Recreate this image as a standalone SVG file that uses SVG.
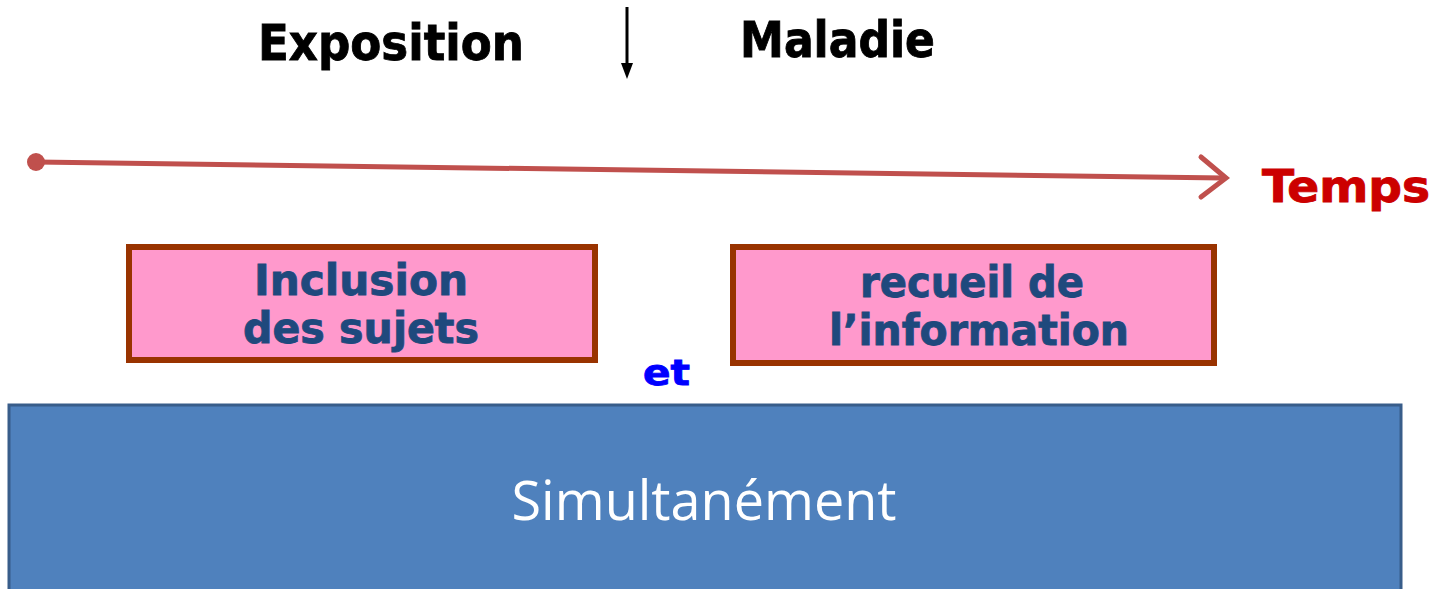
<svg xmlns="http://www.w3.org/2000/svg" width="1439" height="589" viewBox="0 0 1439 589">
<style>
.bold{font-family:"DejaVu Sans Condensed","DejaVu Sans",Verdana,sans-serif;font-weight:bold}
.hdr{font-size:50px;fill:#000}
.box{fill:#FF99CC;stroke:#993300;stroke-width:6}
.boxtxt{font-size:42px;fill:#1F497D;text-anchor:middle;stroke:#1F497D;stroke-width:0.8}
</style>
<rect width="1439" height="589" fill="#fff"/>
<g id="labels">
<text class="bold hdr" x="258" y="60" textLength="266" lengthAdjust="spacingAndGlyphs" stroke="#000" stroke-width="0.8">Exposition</text>
<text class="bold hdr" x="740" y="57" textLength="195" lengthAdjust="spacingAndGlyphs" stroke="#000" stroke-width="0.8">Maladie</text>
<text class="bold" x="1262" y="202" font-size="44" fill="#CC0000" stroke="#CC0000" stroke-width="0.8" textLength="168" lengthAdjust="spacingAndGlyphs">Temps</text>
<text class="bold" x="643" y="385" font-size="36" fill="#0000FF" stroke="#0000FF" stroke-width="0.8" textLength="47" lengthAdjust="spacingAndGlyphs">et</text>
</g>
<g id="connectors">
<line x1="627" y1="7" x2="627" y2="64" stroke="#000" stroke-width="3"/>
<path d="M621,63 L633,63 L627,79 Z" fill="#000"/>
<circle cx="36" cy="162" r="9" fill="#C0504D"/>
<line x1="36" y1="162" x2="1224" y2="178" stroke="#C0504D" stroke-width="5"/>
<path d="M1201,157 L1226,178 L1201,197" fill="none" stroke="#C0504D" stroke-width="5" stroke-linecap="round" stroke-linejoin="miter"/>
</g>
<g id="inclusion">
<rect class="box" x="129" y="247" width="466" height="113"/>
<text class="bold boxtxt" x="361" y="295" textLength="214" lengthAdjust="spacingAndGlyphs">Inclusion</text>
<text class="bold boxtxt" x="361" y="343" textLength="236" lengthAdjust="spacingAndGlyphs">des sujets</text>
</g>
<g id="recueil">
<rect class="box" x="733" y="247" width="481" height="116"/>
<text class="bold boxtxt" x="972" y="297" textLength="224" lengthAdjust="spacingAndGlyphs">recueil de</text>
<text class="bold boxtxt" x="979" y="345" textLength="300" lengthAdjust="spacingAndGlyphs">l’information</text>
</g>
<g id="simultanement">
<rect x="9" y="405" width="1392" height="190" fill="#4F81BD" stroke="#385D8A" stroke-width="3"/>
<text x="704" y="520" font-family="'Open Sans','Liberation Sans',sans-serif" font-size="54" fill="#fff" text-anchor="middle" textLength="385" lengthAdjust="spacingAndGlyphs">Simultanément</text>
</g>
</svg>
